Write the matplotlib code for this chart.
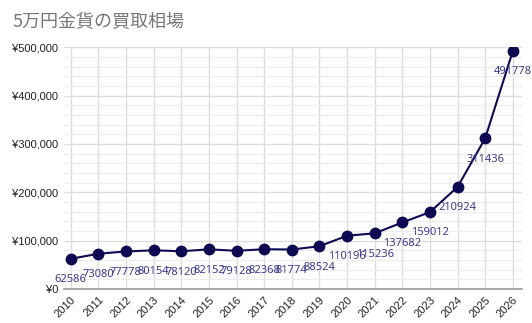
import numpy as np
import matplotlib.pyplot as plt
from matplotlib.ticker import FuncFormatter, MultipleLocator

years = list(range(2010, 2027))
prices = [62586, 73080, 77778, 80154, 78120, 82152, 79128, 82368, 81774,
          88524, 110196, 115236, 137682, 159012, 210924, 311436, 491778]
title = "5万円金貨の買取相場"

line_color = "#0e0a52"
label_color = "#3c3a8c"

fig = plt.figure(figsize=(5.32, 3.23), dpi=100)
ax = fig.add_axes([0.120, 0.105, 0.861, 0.749])

ax.plot(years, prices, color=line_color, linewidth=1.5, marker="o",
        markersize=7.5, zorder=3)

# value labels just under each point
for x, y in zip(years, prices):
    ax.annotate(str(y), (x, y), xytext=(0, -11), textcoords="offset points",
                ha="center", va="top", fontsize=8, color=label_color,
                family=["Noto Sans", "DejaVu Sans"], zorder=4)

ax.set_xlim(2009.75, 2026.33)
ax.set_ylim(0, 500000)
ax.set_xticks(years)
ax.set_xticklabels([str(y) for y in years], rotation=45, ha="right",
                   rotation_mode="anchor", fontsize=8, color="#222222")
ax.yaxis.set_major_locator(MultipleLocator(100000))
ax.yaxis.set_minor_locator(MultipleLocator(20000))
ax.yaxis.set_major_formatter(FuncFormatter(lambda v, _: f"¥{int(v):,}"))
for lbl in ax.get_yticklabels():
    lbl.set_fontsize(8)
    lbl.set_color("#222222")
    lbl.set_family(["Liberation Sans", "DejaVu Sans"])
for lbl in ax.get_xticklabels():
    lbl.set_family(["Liberation Sans", "DejaVu Sans"])

ax.grid(which="major", color="#dddddd", linewidth=1)
ax.grid(which="minor", axis="y", color="#ececec", linewidth=0.8)
ax.set_axisbelow(True)
ax.tick_params(which="both", length=0, pad=4)
for side in ["top", "right", "left"]:
    ax.spines[side].set_visible(False)
ax.spines["bottom"].set_color("#999999")
ax.spines["bottom"].set_linewidth(1.2)

fig.text(0.024, 0.932, title, fontsize=13, color="#777777",
         family=["Noto Sans CJK JP", "DejaVu Sans"], va="center", ha="left")

fig.savefig("out.png", dpi=100)
